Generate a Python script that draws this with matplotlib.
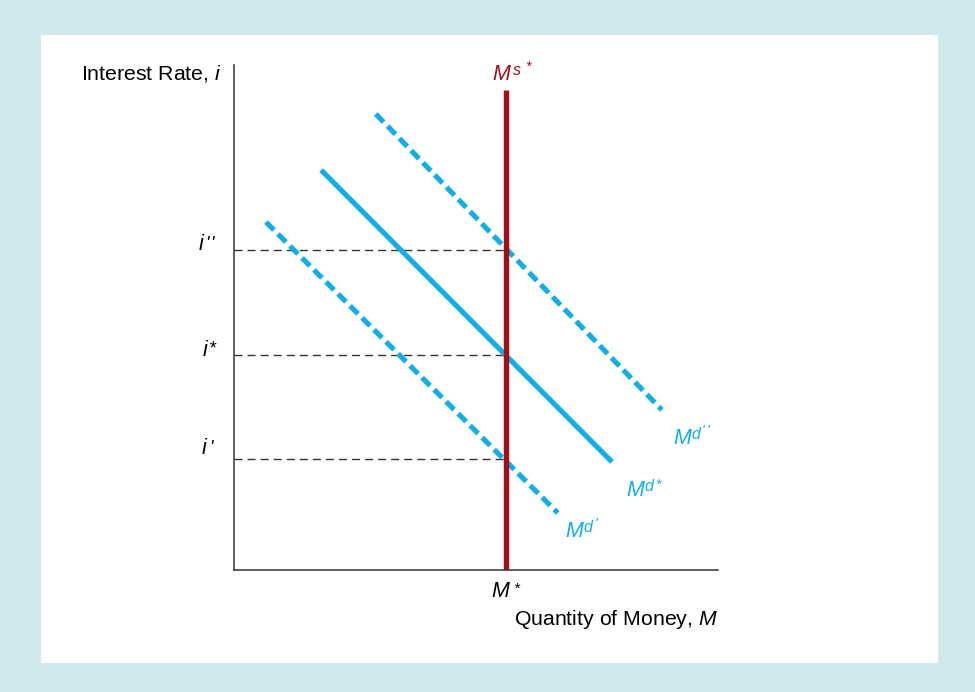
import matplotlib
matplotlib.use("Agg")
import matplotlib.pyplot as plt

plt.rcParams['font.family'] = ['Liberation Sans', 'DejaVu Sans']
plt.rcParams['mathtext.fontset'] = 'custom'
plt.rcParams['mathtext.it'] = 'Liberation Sans:italic'
plt.rcParams['mathtext.rm'] = 'Liberation Sans'

# money supply (vertical) at M*
ms_x = [56.2, 56.2]
ms_y = [0, 95.0]

# money demand curves: (x0, x1), (y0, y1)
md_star_x = [18.0, 78.1]
md_star_y = [79.2, 21.4]
md_low_x = [6.6, 66.9]
md_low_y = [68.9, 11.3]
md_high_x = [29.3, 88.4]
md_high_y = [90.3, 31.7]

# equilibrium interest rates
rates = [63.4, 42.6, 22.0]

blue = '#12aee8'
red = '#a01019'
W, H = 975, 692

fig = plt.figure(figsize=(W / 100, H / 100), dpi=100, facecolor='#cfe9ef')

# white panel
bg = fig.add_axes([41 / W, 1 - 663 / H, 897 / W, 628 / H])
bg.set_facecolor('white')
bg.set_xticks([])
bg.set_yticks([])
for s in bg.spines.values():
    s.set_visible(False)

ax = fig.add_axes([234 / W, 122 / H, 484 / W, 505 / H])
ax.set_xlim(0, 100)
ax.set_ylim(0, 100)
ax.set_facecolor('none')
for s in ['top', 'right']:
    ax.spines[s].set_visible(False)
for s in ['left', 'bottom']:
    ax.spines[s].set_color('#333333')
    ax.spines[s].set_linewidth(1.1)
ax.set_xticks([])
ax.set_yticks([])

for r in rates:
    ax.plot([0, ms_x[0]], [r, r], color='#333333', lw=1.0, dashes=(5.8, 3.6))

ax.plot(md_low_x, md_low_y, color=blue, lw=3.7, dashes=(2.2, 1.1))
ax.plot(md_high_x, md_high_y, color=blue, lw=3.7, dashes=(2.2, 1.1))
ax.plot(md_star_x, md_star_y, color=blue, lw=3.7, solid_capstyle='butt')
ax.plot(ms_x, ms_y, color=red, lw=3.9, solid_capstyle='butt')

renderer = fig.canvas.get_renderer()


def label(px, py, parts, color='black'):
    # parts: (text, fontsize, gap_px, rise_px); px, py = baseline start in pixels
    x = px
    for txt, size, gap, rise in parts:
        x += gap
        t = fig.text(x / W, 1 - (py - rise) / H, txt, fontsize=size, style='italic',
                     color=color, ha='left', va='baseline')
        x = t.get_window_extent(renderer).x1


fig.text(222 / W, 1 - 80 / H, r"Interest Rate, $i$", fontsize=15.3,
         ha='right', va='baseline')
fig.text(718 / W, 1 - 625 / H, r"Quantity of Money, $M$", fontsize=15.3,
         ha='right', va='baseline')

label(492, 80, [("M", 15.5, 0, 0), ("s", 11.5, 3, 5), ("*", 10, 4, 9)], red)
label(199, 250, [("i", 15.5, 0, 0), ("'", 13, 1, 1), ("'", 13, 2, 1)])
label(203, 356, [("i", 15.5, 0, 0), ("*", 13, 1, 3)])
label(202, 454, [("i", 15.5, 0, 0), ("'", 13, 2, 1)])
label(491, 597, [("M", 15.5, 0, 0), ("*", 11, 4, 4)])

label(673, 444, [("M", 15.5, 0, 0), ("d", 11.5, 1, 5), ("'", 10, 1, 9), ("'", 10, 2, 9)], blue)
label(626, 496, [("M", 15.5, 0, 0), ("d", 11.5, 1, 5), ("*", 10, 1, 7)], blue)
label(565, 537, [("M", 15.5, 0, 0), ("d", 11.5, 1, 5), ("'", 10, 2, 9)], blue)

fig.savefig('out.png', dpi=100, facecolor=fig.get_facecolor())
